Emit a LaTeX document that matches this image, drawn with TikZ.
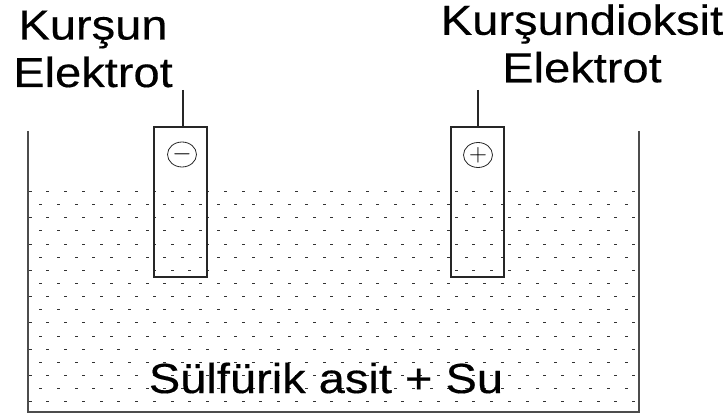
\documentclass[tikz,border=0pt]{standalone}
\usepackage{fontspec}
\setmainfont{Liberation Sans}
\newfontfamily\labelfont[FakeBold=0.35]{Liberation Sans}
\usetikzlibrary{positioning, shapes.geometric}
\tikzset{%
	every electrode/.style={
		rectangle,
		draw=black!85,
		line width=1.1pt,
		minimum width=53pt,
		minimum height=150pt
	},
	polarity/.style={
		ellipse,
		draw=black!85,
		line width=0.8pt,
		inner sep=0pt,
		minimum width=29pt,
		minimum height=25pt,
		font=\fontsize{26}{26}\selectfont
	},
	label text/.style={
		inner sep=0pt,
		align=center,
		xscale=1.12,
		font=\labelfont\fontsize{42}{47.5}\selectfont
	},
}
\begin{document}
\begin{tikzpicture}[x=1pt,y=-1pt]
	\useasboundingbox (0,0) rectangle (727,414);
	% Define the spacing of the dots
	\newcommand{\dotStepX}{17.75}
	\newcommand{\dotStepY}{13.15}
	
	% Loop through rows and columns to draw the liquid
	\foreach \row in {0,...,16} {
		\pgfmathsetmacro{\rowY}{round(191+\row*\dotStepY)}
		\ifodd\row
		\foreach \col in {0,...,33} {
			\fill[black!80] (40.5+\col*\dotStepX-1.5, \rowY) rectangle ++(3,1);
		}
		\else
		\foreach \col in {0,...,34} {
			\fill[black!80] (30+\col*\dotStepX-1.5, \rowY) rectangle ++(3,1);
		}
		\fi
	}
	
	% Tank
	\draw[line width=1.5pt, black!70] (28,131) -- (28,412) -- (639,412) -- (639,131);
	
	% Electrodes
	\node[every electrode] (leadPlate) at (180.5,202) {};
	\node[every electrode] (oxidePlate) at (477.5,202) {};
	\coordinate (leadEnd) at (183,90);
	\coordinate (oxideEnd) at (478,90);
	\draw[line width=1.1pt, black!85] (leadEnd) -- (leadEnd |- leadPlate.north);
	\draw[line width=1.1pt, black!85] (oxideEnd) -- (oxideEnd |- oxidePlate.north);
	\node[polarity] (minusSign) at (182,154.5) {$-$};
	\node[polarity] (plusSign) at (478,155) {$+$};
	
	% Labels
	\node[label text] (leadLabel) at (93,49) {Kurşun\\Elektrot};
	\node[label text] (oxideLabel) at (582,43.5) {Kurşundioksit\\Elektrot};
	\node[label text] (acidLabel) at (326,378) {Sülfürik asit + Su};
\end{tikzpicture}
\end{document}
